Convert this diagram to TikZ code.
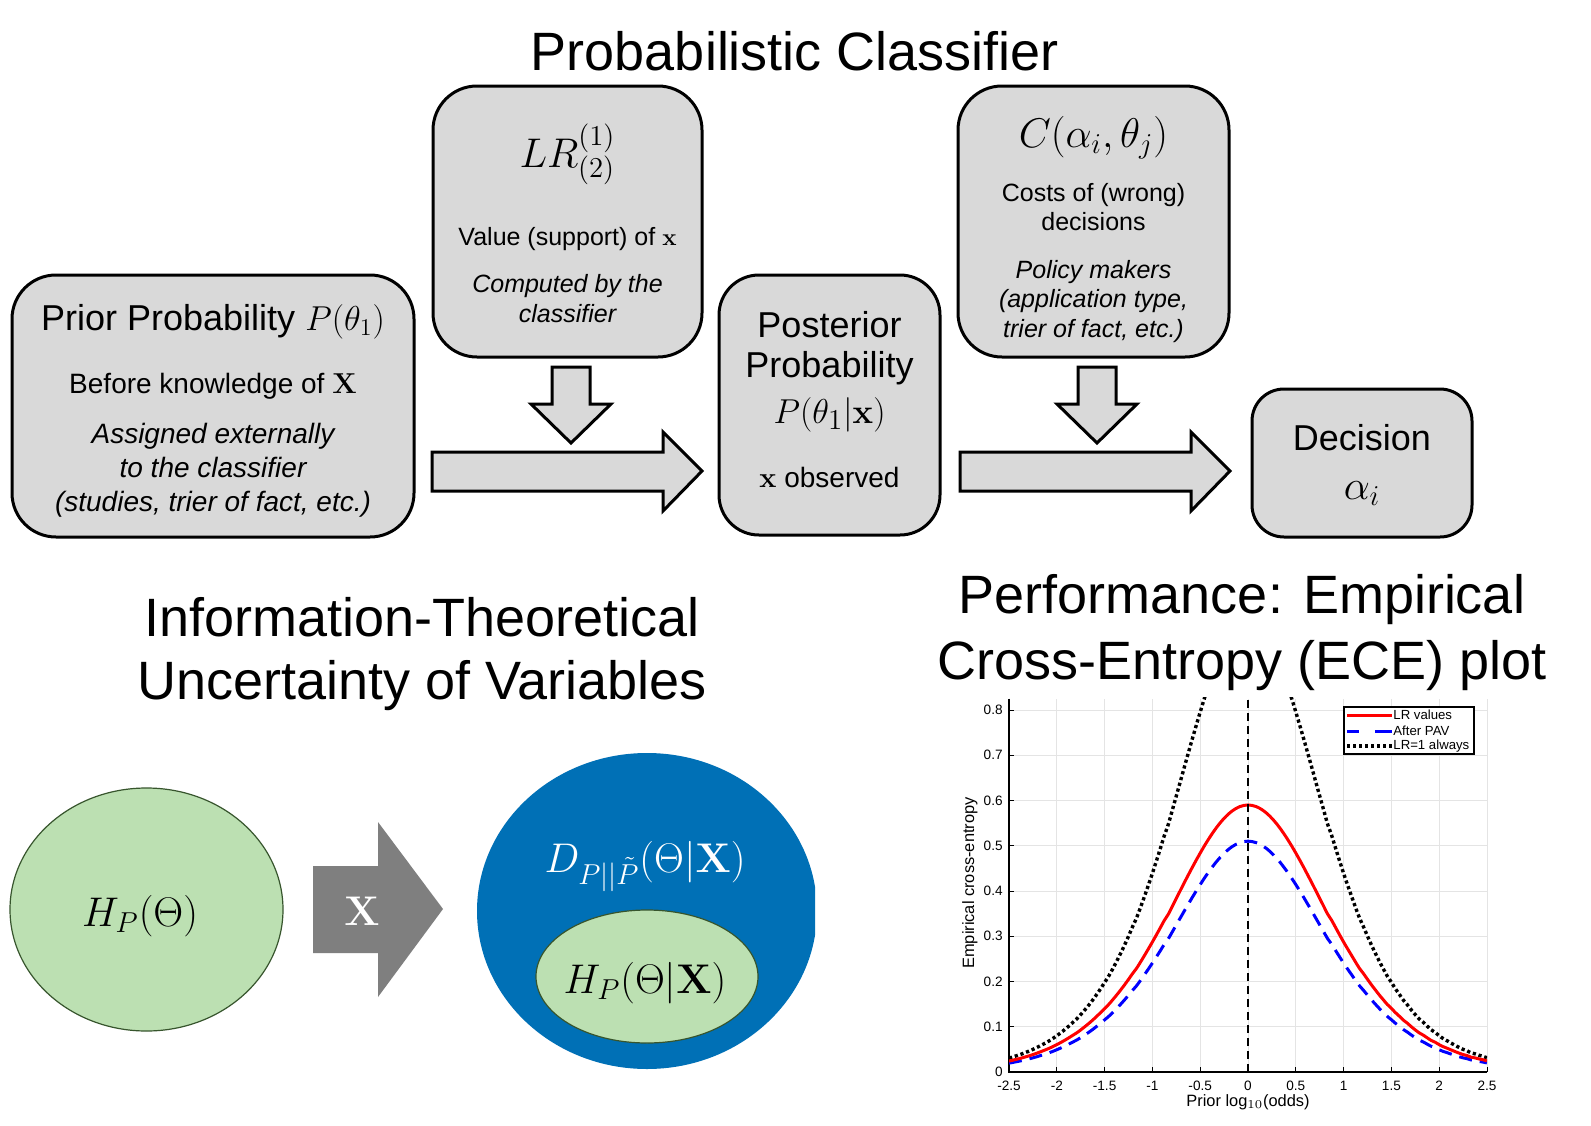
\documentclass[tikz,border=0pt]{standalone}
\usepackage[no-math]{fontspec}
\setmainfont{Liberation Sans}
\usetikzlibrary{shapes.geometric}
\definecolor{boxgray}{RGB}{217,217,217}
\definecolor{lgreen}{RGB}{188,224,178}
\definecolor{dgreen}{RGB}{55,85,45}
\definecolor{dblue}{RGB}{0,112,182}
\definecolor{agray}{RGB}{127,127,127}
\definecolor{gridgray}{RGB}{228,228,228}
\definecolor{mred}{RGB}{255,0,0}
\definecolor{mblue}{RGB}{0,0,255}
\begin{document}
\begin{tikzpicture}[x=0.5pt,y=-0.5pt,
  box/.style={draw=black, line width=1.5pt, fill=boxgray, rounded corners=22pt, inner sep=0pt},
  barrow/.style={draw=black, line width=1.5pt, fill=boxgray, line join=miter},
  ttl/.style={font=\fontsize{27}{32}\selectfont, anchor=base, inner sep=0pt},
  lbig/.style={font=\fontsize{18}{21}\selectfont, anchor=base, inner sep=0pt},
  lmid/.style={font=\fontsize{14}{17}\selectfont, anchor=base, inner sep=0pt},
  lsm/.style={font=\fontsize{12.5}{15}\selectfont, anchor=base, inner sep=0pt},
  lmath/.style={font=\fontsize{20}{24}\selectfont, anchor=base, inner sep=0pt},
  bmath/.style={font=\fontsize{21}{25}\selectfont, anchor=base, inner sep=0pt},
  ell/.style={ellipse, draw=dgreen, line width=0.6pt, fill=lgreen, inner sep=0pt},
  gridline/.style={draw=gridgray, line width=0.5pt},
  plttxt/.style={font=\fontsize{6.8}{8}\selectfont, inner sep=0pt},
  axtxt/.style={font=\fontsize{8.2}{10}\selectfont, inner sep=0pt},
  legtxt/.style={font=\fontsize{6.6}{8}\selectfont, inner sep=0pt, anchor=west},
  redline/.style={draw=mred, line width=1.5pt},
  blueline/.style={draw=mblue, line width=1.5pt, dash pattern=on 6.5pt off 4pt},
  dotline/.style={draw=black, line width=1.7pt, dash pattern=on 1.6pt off 1.4pt},
  declare function={pp(\o)=1/(1+pow(10,-(\o)));
    HH(\o)=-(pp(\o)*ln(pp(\o))+(1-pp(\o))*ln(1-pp(\o)))/ln(2);
    redf(\o)=HH(\o)*(0.59+0.22*(1-exp(-((\o)^2)/2.88)));
    bluef(\o)=HH(\o)*(0.51+0.15*(1-exp(-((\o)^2)/3.38)));}
]
\useasboundingbox (0,0) rectangle (1591,1125);
\fill[white] (0,0) rectangle (1591,1125);

% ---------- titles ----------
\node[ttl] (t1) at (795,70) {Probabilistic Classifier};
\node[ttl] (t2a) at (422,636) {Information-Theoretical};
\node[ttl] (t2b) at (422,699) {Uncertainty of Variables};
\node[ttl] (t3a) at (1242,613) {Performance: Empirical};
\node[ttl] (t3b) at (1242,679) {Cross-Entropy (ECE) plot};

% ---------- boxes ----------
\node[box, minimum width=201pt, minimum height=131pt] (prior) at (213,406) {};
\node[box, minimum width=134.5pt, minimum height=135.5pt] (lr) at (567.5,221.5) {};
\node[box, minimum width=135.5pt, minimum height=135.5pt] (cost) at (1093.5,221.5) {};
\node[box, minimum width=110.5pt, minimum height=130pt, rounded corners=20pt] (post) at (829.5,405) {};
\node[box, minimum width=110pt, minimum height=74pt, rounded corners=16pt] (dec) at (1362,463) {};

% ---------- block arrows ----------
\draw[barrow] (432,452) -- (663,452) -- (663,432) -- (702,471) -- (663,511) -- (663,491) -- (432,491) -- cycle;
\draw[barrow] (960,452) -- (1191,452) -- (1191,432) -- (1230,471) -- (1191,511) -- (1191,491) -- (960,491) -- cycle;
\draw[barrow] (552,367) -- (590,367) -- (590,404) -- (611,404) -- (571,443) -- (531,404) -- (552,404) -- cycle;
\draw[barrow] (1078,367) -- (1116,367) -- (1116,404) -- (1137,404) -- (1097,443) -- (1057,404) -- (1078,404) -- cycle;

% ---------- box texts ----------
\node[lbig] (prior1) at (213,330) {Prior Probability $P(\theta_1)$};
\node[lmid] (prior2) at (213,393) {Before knowledge of $\mathbf{X}$};
\node[lmid, font=\fontsize{14}{17}\selectfont\itshape] (prior3) at (213,443) {Assigned externally};
\node[lmid, font=\fontsize{14}{17}\selectfont\itshape] (prior4) at (213,477) {to the classifier};
\node[lmid, font=\fontsize{14}{17}\selectfont\itshape] (prior5) at (213,511) {(studies, trier of fact, etc.)};

\node[lmath] (lr1) at (567.5,167) {$LR^{(1)}_{(2)}$};
\node[lsm] (lr2) at (567.5,245) {Value (support) of $\mathbf{x}$};
\node[lsm, font=\fontsize{12.5}{15}\selectfont\itshape] (lr3) at (567.5,292) {Computed by the};
\node[lsm, font=\fontsize{12.5}{15}\selectfont\itshape] (lr4) at (567.5,322) {classifier};

\node[lmath] (cost1) at (1093.5,147) {$C(\alpha_i,\theta_j)$};
\node[lsm] (cost2) at (1093.5,201) {Costs of (wrong)};
\node[lsm] (cost3) at (1093.5,230) {decisions};
\node[lsm, font=\fontsize{12.5}{15}\selectfont\itshape] (cost4) at (1093.5,278) {Policy makers};
\node[lsm, font=\fontsize{12.5}{15}\selectfont\itshape] (cost5) at (1093.5,307) {(application type,};
\node[lsm, font=\fontsize{12.5}{15}\selectfont\itshape] (cost6) at (1093.5,337) {trier of fact, etc.)};

\node[lbig] (post1) at (829.5,337) {Posterior};
\node[lbig] (post2) at (829.5,377) {Probability};
\node[lmath, font=\fontsize{19}{23}\selectfont] (post3) at (829.5,423) {$P(\theta_1|\mathbf{x})$};
\node[lmid] (post4) at (829.5,487) {$\mathbf{x}$ observed};

\node[lbig] (dec1) at (1362,450) {Decision};
\node[lmath] (dec2) at (1362,499) {$\alpha_i$};

% ---------- information-theoretic part ----------
\node[ell, minimum width=136.5pt, minimum height=121.5pt] (hp) at (146.5,909.5) {};
\node[bmath] (hptxt) at (140,926) {$H_P(\Theta)$};

\fill[agray] (313,866) -- (378,866) -- (378,822) -- (443,909) -- (378,997) -- (378,953) -- (313,953) -- cycle;
\node[bmath, text=white, font=\fontsize{20}{24}\selectfont] (xarr) at (362,925) {$\mathbf{X}$};

\begin{scope}
\clip (400,700) rectangle (815,1100);
\node[ellipse, fill=dblue, inner sep=0pt, minimum width=170pt, minimum height=158pt] (dcirc) at (647,911) {};
\end{scope}
\node[ell, minimum width=111pt, minimum height=66.5pt] (hpx) at (647,976.5) {};
\node[bmath, text=white] (dtxt) at (645,872) {$D_{P||\tilde{P}}(\Theta|\mathbf{X})$};
\node[bmath] (hpxtxt) at (645,993) {$H_P(\Theta|\mathbf{X})$};

% ---------- ECE plot ----------
\begin{scope}[x=47.8pt, y=226.25pt, shift={(624pt,-536pt)}]
  \foreach \gx in {-2.5,-2,-1.5,-1,-0.5,0,0.5,1,1.5,2,2.5}
    \draw[gridline] (\gx,0) -- (\gx,0.825);
  \foreach \gy in {0.1,0.2,0.3,0.4,0.5,0.6,0.7,0.8}
    \draw[gridline] (-2.5,\gy) -- (2.5,\gy);
  \draw[black, line width=0.6pt] (-2.5,0.825) -- (-2.5,0) -- (2.5,0);
  \foreach \gx/\lab in {-2.5/-2.5,-2/-2,-1.5/-1.5,-1/-1,-0.5/-0.5,0/0,0.5/0.5,1/1,1.5/1.5,2/2,2.5/2.5}{
    \draw[black, line width=0.5pt] (\gx,0) -- ++(0,0.012);
    \node[plttxt, anchor=base, yshift=-9pt] at (\gx,0) {\lab};
  }
  \foreach \gy in {0,0.1,0.2,0.3,0.4,0.5,0.6,0.7,0.8}{
    \draw[black, line width=0.5pt] (-2.5,\gy) -- ++(0.05,0);
    \node[plttxt, anchor=east, xshift=-3pt] at (-2.5,\gy) {\gy};
  }
  \begin{scope}
    \clip (-2.5,0) rectangle (2.5,0.828);
    \draw[dotline] plot[domain=-2.5:2.5, samples=121, smooth] (\x,{HH(\x)});
    \draw[blueline] plot[domain=-2.5:2.5, samples=121, smooth] (\x,{bluef(\x)});
    \draw[redline] plot[domain=-2.5:2.5, samples=121, smooth] (\x,{redf(\x)});
  \end{scope}
  \draw[black, line width=1pt, dash pattern=on 4pt off 2.5pt] (0,0) -- (0,0.825);
\end{scope}
\node[axtxt, anchor=base] (xlab) at (1248,1106) {Prior log$_{10}$(odds)};
\node[axtxt, rotate=90] (ylab) at (970,883) {Empirical cross-entropy};

% legend
\draw[black, line width=0.6pt, fill=white] (1344,707) rectangle (1474,754);
\draw[redline] (1347,715) -- (1392,715);
\draw[blueline, dash pattern=on 6pt off 8pt on 10pt] (1347,731) -- (1392,731);
\draw[dotline] (1347,746) -- (1392,746);
\node[legtxt] (leg1) at (1393,715) {LR values};
\node[legtxt] (leg2) at (1393,731) {After PAV};
\node[legtxt] (leg3) at (1393,746) {LR=1 always};
\end{tikzpicture}
\end{document}
